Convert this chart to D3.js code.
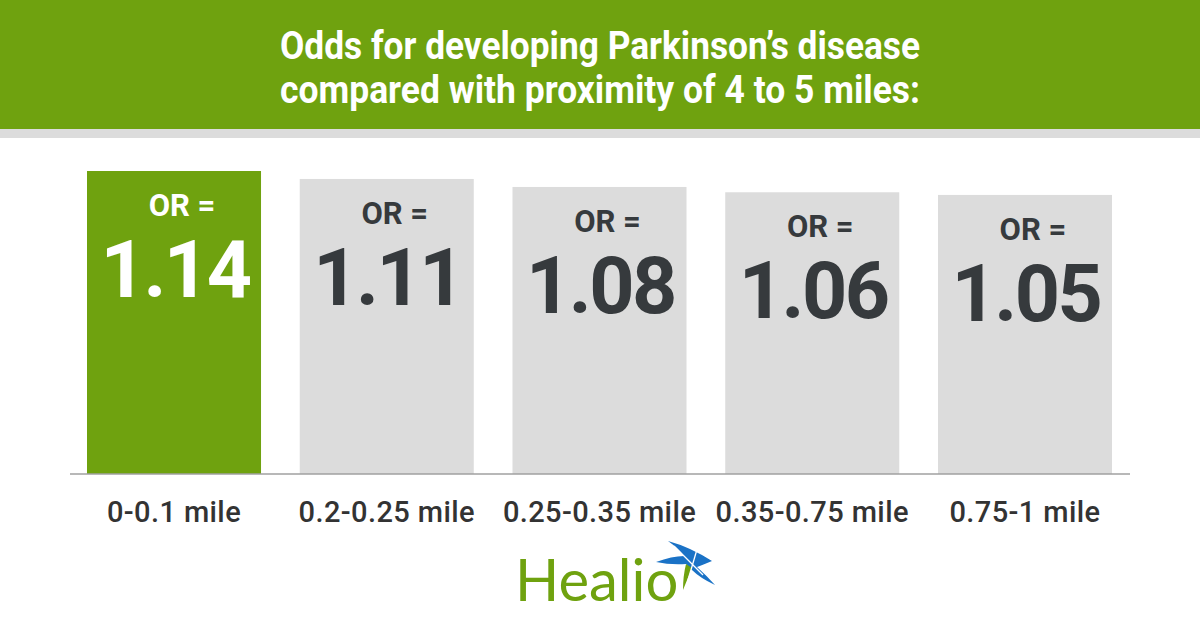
<!DOCTYPE html>
<html><head><meta charset="utf-8">
<script src="https://cdn.jsdelivr.net/npm/d3@7"></script>
<style>html,body{margin:0;padding:0;background:#fff;}svg{display:block;}</style>
</head><body>
<div id="chart"></div>
<script>
const titleLines = ["Odds for developing Parkinson\u2019s disease", "compared with proximity of 4 to 5 miles:"];
const categories = ["0-0.1 mile", "0.2-0.25 mile", "0.25-0.35 mile", "0.35-0.75 mile", "0.75-1 mile"];
const values = [1.14, 1.11, 1.08, 1.06, 1.05];
const valueLabels = ["1.14", "1.11", "1.08", "1.06", "1.05"];
const prefixLabel = "OR =";
const brand = "Healio";

const W = 1200, H = 630;
const GREEN = "#6fa20f", GRAY = "#dcdcdc", DARK = "#363a3d", BLUE = "#1a72c6";

const svg = d3.select("#chart").append("svg").attr("width", W).attr("height", H);

// header
svg.append("rect").attr("x", 0).attr("y", 0).attr("width", W).attr("height", 129).attr("fill", GREEN);
svg.append("rect").attr("x", 0).attr("y", 129).attr("width", W).attr("height", 9).attr("fill", GRAY);
const titleY = [59, 103];
titleLines.forEach((t, i) => {
  svg.append("text").attr("x", 600).attr("y", titleY[i]).attr("text-anchor", "middle")
    .attr("font-family", "Roboto, sans-serif").attr("font-weight", 700).attr("font-size", 38)
    .attr("fill", "#fff").attr("textLength", 640).attr("lengthAdjust", "spacingAndGlyphs")
    .text(t);
});

// scales
const x = d3.scaleBand().domain(categories).range([87, 1112]).paddingInner(0.182).paddingOuter(0);
const y = d3.scaleLinear().domain([0, 1.14]).range([474, 171]);

const g = svg.append("g");
const bars = g.selectAll("g.bar").data(categories).join("g").attr("class", "bar");
bars.append("rect")
  .attr("x", d => x(d)).attr("width", x.bandwidth())
  .attr("y", (d, i) => y(values[i])).attr("height", (d, i) => y(0) - y(values[i]))
  .attr("fill", (d, i) => i === 0 ? GREEN : GRAY);
bars.append("text")
  .attr("x", d => x(d) + x.bandwidth() / 2 + 8)
  .attr("y", (d, i) => y(values[i]) + 45)
  .attr("text-anchor", "middle").attr("font-family", "Roboto, sans-serif").attr("font-weight", 700)
  .attr("font-size", 31).attr("fill", (d, i) => i === 0 ? "#fff" : DARK).text(prefixLabel);
bars.append("text")
  .attr("x", d => x(d) + x.bandwidth() / 2 + 1)
  .attr("y", (d, i) => y(values[i]) + 126)
  .attr("text-anchor", "middle").attr("font-family", "Roboto, sans-serif").attr("font-weight", 700)
  .attr("font-size", 79).attr("letter-spacing", -2.5).attr("fill", (d, i) => i === 0 ? "#fff" : DARK)
  .text((d, i) => valueLabels[i]);

// axis
const axis = svg.append("g").attr("transform", "translate(0,474)")
  .call(d3.axisBottom(x).tickSize(0).tickPadding(0));
axis.select(".domain").attr("d", "M70,0H1130").attr("stroke", "#a0a0a0").attr("stroke-width", 1.6);
axis.selectAll(".tick text").attr("y", 48).attr("dy", 0)
  .attr("font-family", "Roboto, sans-serif").attr("font-weight", 500).attr("font-size", 29)
  .attr("letter-spacing", 0.4).attr("fill", "#333");

// logo
svg.append("text").attr("x", 515).attr("y", 601).attr("font-family", "Lato, sans-serif")
  .attr("font-weight", 400).attr("font-size", 58).attr("fill", GREEN).text(brand);
const star = svg.append("g");
star.append("path")
  .attr("d", "M668,541 Q690,547 712,561 Q700,566 697,567 Q707,576 715,585 Q700,578 692,570 L686,564 Q670,565 656,562 Q672,556 684,556 Q678,548 668,541 Z")
  .attr("fill", BLUE);
star.append("path").attr("d", "M692,568 Q687,580 683,590 Q683,576 686,564 Z").attr("fill", GREEN);
star.append("path").attr("d", "M674,546 L703,575").attr("stroke", "#fff").attr("stroke-width", 1.3);
star.append("path").attr("d", "M698,546 L688,580").attr("stroke", "#fff").attr("stroke-width", 1.3);
</script>
</body></html>
